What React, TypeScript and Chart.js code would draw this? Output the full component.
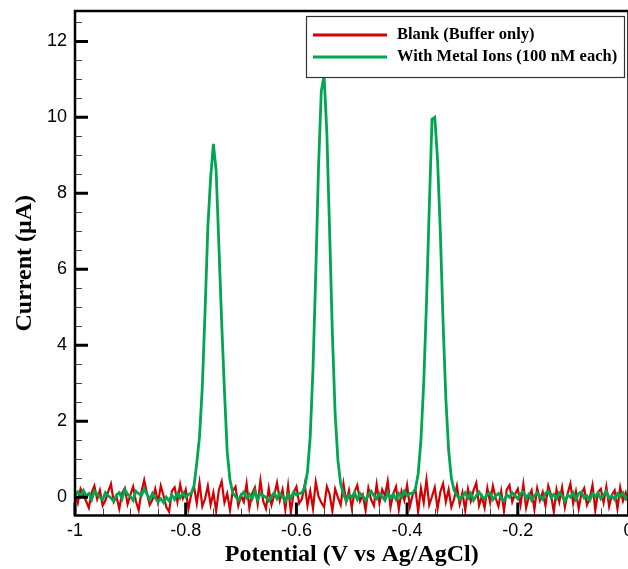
import React, { useEffect, useRef } from "react";
import { Chart, registerables } from "chart.js";

Chart.register(...registerables);

// Potential sweep (V vs Ag/AgCl): start and step of the sampled points
const POTENTIAL_START = -1.0;
const POTENTIAL_STEP = 0.005;

// Blank (buffer only) current, µA — one value per potential step (201 points)
const BLANK_CURRENT = [
  0.08, -0.15, 0.22, 0.05, -0.10, -0.28, 0.12, 0.30, -0.05, 0.18,
  -0.22, -0.08, 0.15, 0.35, -0.12, 0.02, -0.30, 0.10, 0.24, -0.18,
  0.06, 0.28, -0.10, -0.34, 0.14, 0.45, 0.10, -0.20, -0.06, 0.22,
  -0.14, 0.30, 0.04, -0.26, -0.38, 0.16, 0.26, -0.12, 0.34, -0.02,
  0.20, -0.30, 0.08, 0.28, -0.16, 0.38, -0.24, -0.04, 0.30, -0.20,
  0.12, -0.36, 0.20, 0.42, -0.14, 0.10, -0.34, 0.16, 0.28, -0.22,
  0.04, -0.12, 0.36, -0.28, 0.10, 0.26, -0.18, 0.44, -0.10, -0.30,
  0.24, -0.20, 0.06, 0.38, -0.08, 0.20, -0.32, 0.30, -0.40, 0.12,
  0.28, -0.16, -0.04, 0.34, -0.22, 0.16, -0.30, 0.40, 0.02, -0.14,
  -0.26, 0.28, 0.08, -0.36, 0.22, 0.00, -0.20, 0.36, -0.12, 0.18,
  -0.28, 0.14, 0.32, -0.10, 0.06, -0.34, 0.24, -0.06, -0.22, 0.34,
  -0.16, 0.20, 0.04, 0.42, -0.26, 0.10, 0.28, -0.32, 0.16, -0.08,
  0.32, -0.24, 0.06, 0.22, -0.38, 0.24, -0.14, 0.46, -0.20, 0.02,
  0.26, -0.30, 0.14, 0.36, -0.12, 0.20, -0.26, -0.04, 0.30, -0.18,
  0.12, -0.34, 0.22, -0.10, 0.18, 0.38, -0.22, 0.02, -0.28, 0.24,
  -0.14, 0.30, -0.02, -0.24, 0.16, -0.36, 0.20, 0.32, -0.12, 0.08,
  0.22, -0.20, 0.34, -0.28, 0.02, 0.18, -0.32, 0.24, -0.08, 0.14,
  -0.22, 0.30, 0.06, -0.38, 0.20, -0.12, 0.26, -0.26, 0.10, 0.36,
  -0.16, 0.16, -0.30, 0.10, 0.24, -0.20, -0.02, 0.32, -0.34, 0.14,
  0.22, -0.14, 0.28, -0.24, 0.06, 0.18, -0.30, 0.26, -0.10, 0.12,
  -0.18,
];

// With metal ions (100 nM each) current, µA — 201 points
const METAL_CURRENT = [
  0.06, 0.14, 0.02, 0.18, 0.04, 0.10, -0.06, 0.16, 0.08, 0.00,
  -0.06, 0.12, 0.04, -0.02, -0.10, 0.06, 0.12, -0.04, 0.20, 0.08,
  0.02, -0.08, 0.16, 0.10, 0.04, 0.22, 0.08, -0.06, 0.10, -0.02,
  -0.12, -0.04, -0.14, 0.00, -0.10, 0.06, -0.06, 0.10, -0.02, 0.12,
  0.00, 0.08,
  // first peak
  0.10, 0.30, 0.90, 1.60, 2.90, 4.90, 7.10, 8.40, 9.30, 8.60, 6.60, 4.60, 2.80, 1.20, 0.45, 0.12,
  0.02, -0.08, 0.06, 0.14, -0.02, 0.08, -0.04, 0.16, -0.06, 0.10, 0.04, 0.00,
  -0.10, 0.02, 0.12, -0.04, 0.10, 0.02, -0.10, 0.08, -0.02, 0.14, 0.06, 0.10,
  // second peak
  0.12, 0.25, 0.67, 1.60, 3.40, 5.90, 8.70, 10.70, 11.10, 9.60, 7.00, 4.30, 2.20, 0.97, 0.35, 0.10,
  -0.10, 0.06, 0.00, 0.12, -0.06, 0.10, 0.02, -0.08, 0.06, 0.16,
  0.04, -0.04, 0.10, 0.02, -0.08, 0.12, -0.02, 0.08, -0.06, 0.10,
  0.00, 0.16, 0.04, 0.10,
  // third peak
  0.10, 0.22, 0.62, 1.50, 3.00, 5.10, 7.60, 9.95, 10.00, 8.90, 7.00, 4.60, 2.60, 1.25, 0.50, 0.18,
  0.06, -0.06, 0.02, 0.12, -0.02, 0.10, -0.08, 0.04, 0.14, 0.02,
  -0.04, 0.08, 0.12, -0.06, 0.04, 0.10, -0.02, -0.10, 0.06, 0.00,
  0.12, 0.04, -0.04, 0.10, 0.14, -0.02, 0.08, -0.08, 0.04, 0.12,
  0.02, -0.06, 0.10, 0.16, 0.00, 0.08, -0.04, 0.12, 0.04, -0.10,
  0.06, 0.00, 0.12, -0.06, 0.10, 0.14, -0.02, 0.04, -0.08, 0.10,
  0.02, 0.12, -0.04, 0.06, 0.16, -0.02, 0.04, -0.06, 0.10, 0.02,
  0.12, -0.04, 0.04,
];

const SERIES_LABELS = ["Blank (Buffer only)", "With Metal Ions (100 nM each)"];
const SERIES_COLORS = ["#d20000", "#00a651"];

const X_MIN = -1;
const X_MAX = 0;
const Y_MIN = -0.48;
const Y_MAX = 12.8;
const X_TICKS = [-1, -0.8, -0.6, -0.4, -0.2, 0];
const X_TICK_LABELS = ["-1", "-0.8", "-0.6", "-0.4", "-0.2", "0"];
const Y_TICKS = [0, 2, 4, 6, 8, 10, 12];
const Y_TICK_LABELS = ["0", "2", "4", "6", "8", "10", "12"];
const X_MINOR_STEP = 0.05;
const Y_MINOR_STEP = 0.5;

const X_TITLE = "Potential (V vs Ag/AgCl)";
const Y_TITLE = "Current (\u03bcA)";

const SANS = '"Liberation Sans", Arial, Helvetica, sans-serif';
const SERIF = '"Liberation Serif", "Times New Roman", Times, serif';

const framePlugin = {
  id: "frameAndInwardTicks",
  afterDatasetsDraw(chart: any) {
    const { ctx, chartArea } = chart;
    const xs = chart.scales.x;
    const ys = chart.scales.y;
    const { left, right, top, bottom } = chartArea;
    ctx.save();
    // minor ticks
    ctx.strokeStyle = "#444";
    ctx.lineWidth = 1;
    ctx.beginPath();
    const nx = Math.round((X_MAX - X_MIN) / X_MINOR_STEP);
    for (let i = 0; i <= nx; i++) {
      const px = Math.round(xs.getPixelForValue(X_MIN + i * X_MINOR_STEP)) + 0.5;
      ctx.moveTo(px, bottom);
      ctx.lineTo(px, bottom - 7);
    }
    const ny0 = Math.ceil(Y_MIN / Y_MINOR_STEP);
    const ny1 = Math.floor(Y_MAX / Y_MINOR_STEP);
    for (let i = ny0; i <= ny1; i++) {
      const py = Math.round(ys.getPixelForValue(i * Y_MINOR_STEP)) + 0.5;
      ctx.moveTo(left, py);
      ctx.lineTo(left + 7, py);
    }
    ctx.stroke();
    // major ticks
    ctx.strokeStyle = "#000";
    ctx.lineWidth = 3;
    ctx.beginPath();
    X_TICKS.forEach((v) => {
      const px = xs.getPixelForValue(v);
      ctx.moveTo(px, bottom);
      ctx.lineTo(px, bottom - 13);
    });
    Y_TICKS.forEach((v) => {
      const py = ys.getPixelForValue(v);
      ctx.moveTo(left, py);
      ctx.lineTo(left + 13, py);
    });
    ctx.stroke();
    // frame
    ctx.lineWidth = 2.5;
    ctx.strokeStyle = "#000";
    ctx.strokeRect(left, top, right - left, bottom - top);
    ctx.restore();
  },
  afterDraw(chart: any) {
    const { ctx } = chart;
    ctx.save();
    const bx = 306, by = 16, bw = 318, bh = 61;
    ctx.fillStyle = "#fff";
    ctx.fillRect(bx, by, bw, bh);
    ctx.strokeStyle = "#333";
    ctx.lineWidth = 1.2;
    ctx.strokeRect(bx + 0.5, by + 0.5, bw, bh);
    const rows = [35, 57];
    chart.data.datasets.forEach((ds: any, i: number) => {
      const y = rows[i];
      ctx.strokeStyle = ds.borderColor;
      ctx.lineWidth = 3;
      ctx.beginPath();
      ctx.moveTo(313, y);
      ctx.lineTo(387, y);
      ctx.stroke();
      ctx.fillStyle = "#000";
      ctx.font = `bold 16.5px ${SERIF}`;
      ctx.textBaseline = "middle";
      ctx.textAlign = "left";
      ctx.fillText(ds.label, 397, y);
    });
    ctx.restore();
  },
};

export default function App() {
  const ref = useRef<HTMLCanvasElement | null>(null);

  useEffect(() => {
    if (!ref.current) return;
    const toPoints = (arr: number[]) =>
      arr.map((y, i) => ({ x: POTENTIAL_START + i * POTENTIAL_STEP, y }));
    const chart = new Chart(ref.current, {
      type: "line",
      data: {
        datasets: [
          {
            label: SERIES_LABELS[0],
            data: toPoints(BLANK_CURRENT),
            borderColor: SERIES_COLORS[0],
            backgroundColor: SERIES_COLORS[0],
            borderWidth: 2.2,
            pointRadius: 0,
            tension: 0,
            order: 2,
          },
          {
            label: SERIES_LABELS[1],
            data: toPoints(METAL_CURRENT),
            borderColor: SERIES_COLORS[1],
            backgroundColor: SERIES_COLORS[1],
            borderWidth: 2.8,
            pointRadius: 0,
            tension: 0,
            order: 1,
          },
        ],
      },
      options: {
        animation: false,
        responsive: false,
        maintainAspectRatio: false,
        layout: { padding: { top: 11, right: 11.5, bottom: 0, left: 0 } },
        plugins: { legend: { display: false }, tooltip: { enabled: false } },
        scales: {
          x: {
            type: "linear",
            position: "bottom",
            min: X_MIN,
            max: X_MAX,
            grid: { display: false, drawTicks: false },
            border: { display: false },
            afterBuildTicks: (s: any) => {
              s.ticks = X_TICKS.map((v) => ({ value: v }));
            },
            afterFit: (s: any) => {
              s.height = 53.5;
              s.paddingLeft = 0;
              s.paddingRight = 0;
            },
            ticks: {
              color: "#000",
              autoSkip: false,
              maxRotation: 0,
              padding: 5,
              font: { family: SANS, size: 18 },
              callback: (_v: any, i: number) => X_TICK_LABELS[i],
            },
            title: {
              display: true,
              text: X_TITLE,
              color: "#000",
              font: { family: SERIF, size: 24, weight: "bold" },
              padding: { top: 0, bottom: 0 },
            },
          },
          y: {
            type: "linear",
            min: Y_MIN,
            max: Y_MAX,
            grid: { display: false, drawTicks: false },
            border: { display: false },
            afterBuildTicks: (s: any) => {
              s.ticks = Y_TICKS.map((v) => ({ value: v }));
            },
            afterFit: (s: any) => {
              s.width = 75;
              s.paddingTop = 0;
              s.paddingBottom = 0;
            },
            ticks: {
              color: "#000",
              autoSkip: false,
              padding: 8,
              font: { family: SANS, size: 18 },
              callback: (_v: any, i: number) => Y_TICK_LABELS[i],
            },
            title: {
              display: true,
              text: Y_TITLE,
              color: "#000",
              font: { family: SERIF, size: 24, weight: "bold" },
              padding: { top: 10, bottom: 0 },
            },
          },
        },
      },
      plugins: [framePlugin],
    } as any);
    return () => chart.destroy();
  }, []);

  return (
    <div
      style={{
        position: "fixed",
        left: 0,
        top: 0,
        width: 628,
        height: 569,
        overflow: "hidden",
        background: "#fff",
      }}
    >
      <canvas ref={ref} width={640} height={569} style={{ display: "block" }} />
    </div>
  );
}
